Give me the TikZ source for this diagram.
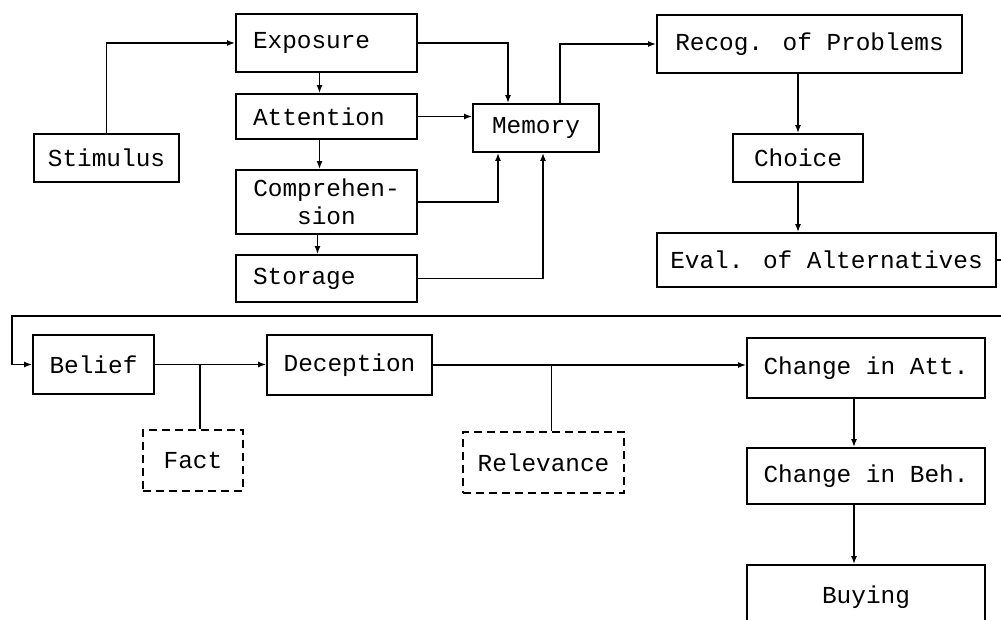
\documentclass[tikz,border=0pt]{standalone}
\usepackage{fontspec}
\newfontfamily\twfont{Liberation Mono}
\usetikzlibrary{arrows.meta,calc}
\tikzset{
  box/.style={draw, line width=1.8pt, rectangle, inner sep=0pt,
    font=\twfont\fontsize{24.4}{28}\selectfont, align=center},
  leftbox/.style={box, text width=147pt, align=left},
  dbox/.style={box, dash pattern=on 8pt off 5pt},
  conn/.style={line width=1.7pt},
  arr/.style={conn, -{Latex[length=8pt,width=6pt]}}
}
\begin{document}
\begin{tikzpicture}[x=1pt,y=-1pt]
\useasboundingbox (0,0) rectangle (1001,619);
\clip (0,0) rectangle (1001,619);
\fill[white] (0,0) rectangle (1001,619);
% upper part
\node[leftbox, minimum width=181pt, minimum height=58pt] (exposure) at (326.5,43) {Exposure};
\node[leftbox, minimum width=181pt, minimum height=45pt] (attention) at (326.5,116.5) {Attention};
\node[box, minimum width=181pt, minimum height=64pt] (compr) at (326.5,202) {Comprehen-\\sion};
\node[leftbox, minimum width=181pt, minimum height=47pt] (storage) at (326.5,278.5) {Storage};
\node[box, minimum width=145pt, minimum height=48pt] (stimulus) at (106.5,158) {Stimulus};
\node[box, minimum width=126pt, minimum height=48pt] (memory) at (536,128) {Memory};
\node[box, minimum width=305pt, minimum height=58pt] (recog) at (809.5,44) {Recog. of Problems};
\node[box, minimum width=130pt, minimum height=48pt] (choice) at (798,158) {Choice};
\node[box, minimum width=339pt, minimum height=54pt] (eval) at (826.5,260) {Eval. of Alternatives};
% lower part
\node[box, minimum width=121pt, minimum height=59pt] (belief) at (93.5,364.5) {Belief};
\node[box, minimum width=165pt, minimum height=60pt] (deception) at (349.5,365) {Deception};
\node[dbox, minimum width=100pt, minimum height=61pt] (fact) at (193,460.5) {Fact};
\node[dbox, minimum width=161pt, minimum height=61pt] (relevance) at (543.5,462.5) {Relevance};
\node[box, minimum width=238pt, minimum height=60pt] (att) at (866,368) {Change in Att.};
\node[box, minimum width=238pt, minimum height=56pt] (beh) at (866,476) {Change in Beh.};
\node[box, minimum width=238pt, minimum height=64pt] (buying) at (866,597) {Buying};
\coordinate (loopL) at (12,316);
% connectors upper
\draw[arr] (stimulus.north) |- (exposure.west);
\draw[arr] (exposure.east) -| ([xshift=-28pt]memory.north);
\draw[arr] ([xshift=-7pt]exposure.south) -- ([xshift=-7pt]attention.north);
\draw[arr] (attention.east) -- (attention.east -| memory.west);
\draw[arr] ([xshift=-7pt]attention.south) -- ([xshift=-7pt]compr.north);
\draw[arr] (compr.east) -| ([xshift=-38pt]memory.south);
\draw[arr] ([xshift=-9pt]compr.south) -- ([xshift=-9pt]storage.north);
\draw[arr] (storage.east) -| ([xshift=7pt]memory.south);
\draw[arr] ([xshift=24pt]memory.north) |- (recog.west);
\draw[arr] (choice.north |- recog.south) -- (choice.north);
\draw[arr] (choice.south) -- (choice.south |- eval.north);
\draw[arr] (eval.east) -- ++(16,0) |- (loopL) |- (belief.west);
% connectors lower
\draw[arr] (belief.east) -- (belief.east -| deception.west);
\draw[conn] (fact.north -| 200,0) -- (200,364.5);
\draw[arr] (deception.east) -- (deception.east -| att.west);
\draw[conn] ([xshift=8pt]relevance.north) -- ([xshift=8pt]relevance.north |- deception.east);
\draw[arr] ([xshift=-12pt]att.south) -- ([xshift=-12pt]beh.north);
\draw[arr] ([xshift=-12pt]beh.south) -- ([xshift=-12pt]buying.north);
\end{tikzpicture}
\end{document}
